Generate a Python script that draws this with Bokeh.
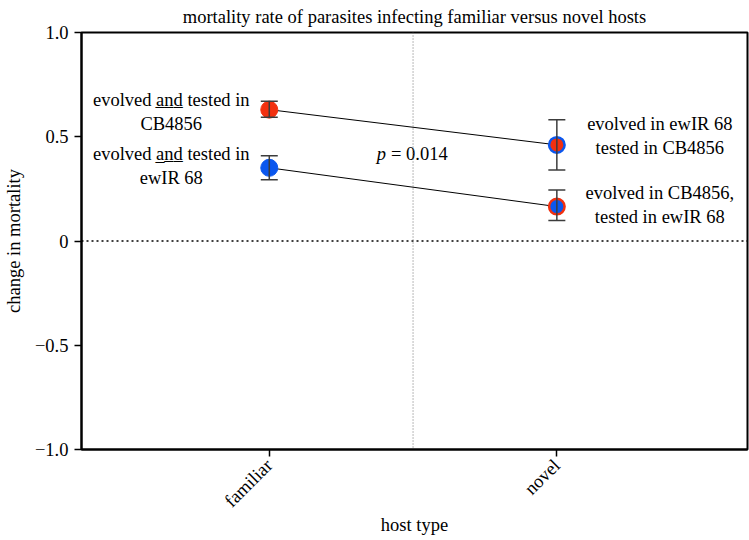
import math
from bokeh.plotting import figure
from bokeh.models import ColumnDataSource, Whisker, Span, FixedTicker, Range1d, TeeHead
from bokeh.embed import file_html
from bokeh.resources import INLINE
from bokeh.core.properties import value

# ---------------- data ----------------
categories = ["familiar", "novel"]
cat_x = [1, 2]

# series tested in CB4856 (familiar: evolved and tested in CB4856; novel: evolved in ewIR 68)
cb_mean = [0.630, 0.461]
cb_lower = [0.594, 0.341]
cb_upper = [0.670, 0.581]
cb_labels = ["evolved a\u0332n\u0332d\u0332 tested in\nCB4856", "evolved in ewIR 68\ntested in CB4856"]

# series tested in ewIR 68 (familiar: evolved and tested in ewIR 68; novel: evolved in CB4856)
ew_mean = [0.351, 0.165]
ew_lower = [0.294, 0.098]
ew_upper = [0.409, 0.245]
ew_labels = ["evolved a\u0332n\u0332d\u0332 tested in\newIR 68", "evolved in CB4856,\ntested in ewIR 68"]

y_ticks = [-1.0, -0.5, 0.0, 0.5, 1.0]
y_tick_labels = ["\u22121.0", "\u22120.5", "0", "0.5", "1.0"]

p_value_text = "= 0.014"
p_value_y = 0.415

RED = "#f2300f"
BLUE = "#0b57ee"
FONT = "Liberation Serif"
FS = "18.5px"

# ---------------- figure ----------------
p = figure(width=749, height=540, output_backend="svg", toolbar_location=None,
           x_range=Range1d(0.347, 2.663), y_range=Range1d(-1, 1),
           title="mortality rate of parasites infecting familiar versus novel hosts",
           min_border_left=80, min_border_right=2, min_border_top=32, min_border_bottom=91,
           x_axis_label="host type", y_axis_label="change in mortality")

p.title.align = "center"
p.title.vertical_align = "top"
p.title.text_font = FONT
p.title.text_font_size = FS
p.title.text_font_style = "normal"
p.title.text_color = "black"
p.title.standoff = 8

p.xgrid.visible = False
p.ygrid.visible = False
p.outline_line_color = "black"
p.outline_line_width = 2
p.outline_line_alpha = 1.0
p.background_fill_color = "white"
p.border_fill_color = "white"

for ax in (p.xaxis[0], p.yaxis[0]):
    ax.axis_line_width = 2
    ax.axis_line_color = "black"
    ax.major_tick_line_width = 1.5
    ax.major_tick_line_color = "black"
    ax.major_tick_out = 7
    ax.major_tick_in = 0
    ax.minor_tick_out = 0
    ax.minor_tick_in = 0
    ax.major_label_text_font = FONT
    ax.major_label_text_font_size = FS
    ax.major_label_text_color = "black"
    ax.axis_label_text_font = FONT
    ax.axis_label_text_font_size = FS
    ax.axis_label_text_font_style = "normal"
    ax.axis_label_text_color = "black"

p.xaxis.ticker = FixedTicker(ticks=cat_x)
p.xaxis.major_label_overrides = {x: c for x, c in zip(cat_x, categories)}
p.xaxis.major_label_orientation = math.pi / 4
p.xaxis.major_label_standoff = 6
p.xaxis.axis_label_standoff = -6

p.yaxis.ticker = FixedTicker(ticks=y_ticks)
p.yaxis.major_label_overrides = {t: l for t, l in zip(y_ticks, y_tick_labels)}
p.yaxis.major_label_standoff = 6
p.yaxis.axis_label_standoff = 8

# reference lines
p.add_layout(Span(location=0, dimension="width", line_color="black",
                  line_width=1.5, line_dash="2 3"))
mid_x = (cat_x[0] + cat_x[1]) / 2
p.add_layout(Span(location=mid_x, dimension="height", line_color="#707070",
                  line_width=1, line_dash="1 2"))

# connecting lines
p.line(cat_x, cb_mean, line_color="black", line_width=1)
p.line(cat_x, ew_mean, line_color="black", line_width=1)

# markers (fill = test host, outline = evolution host)
cb_src = ColumnDataSource(dict(x=cat_x, y=cb_mean, lo=cb_lower, hi=cb_upper,
                               fill=[RED, RED], edge=[RED, BLUE], lw=[1, 2.5], sz=[17, 15.5]))
ew_src = ColumnDataSource(dict(x=cat_x, y=ew_mean, lo=ew_lower, hi=ew_upper,
                               fill=[BLUE, BLUE], edge=[BLUE, RED], lw=[1, 2.5], sz=[17, 15.5]))

for src in (cb_src, ew_src):
    p.scatter("x", "y", source=src, marker="circle", size="sz",
              fill_color="fill", line_color="edge", line_width="lw")
    w = Whisker(base="x", lower="lo", upper="hi", source=src, level="annotation",
                line_color="#3c3c3c", line_width=1.5,
                upper_head=TeeHead(size=17, line_color="#3c3c3c", line_width=1.5),
                lower_head=TeeHead(size=17, line_color="#3c3c3c", line_width=1.5))
    p.add_layout(w)

# labels beside each point
def point_label(x, y, txt, dx, dy):
    p.text([x], [y], text=[txt], x_offset=dx, y_offset=dy,
           text_align="center", text_baseline="middle", text_font=value(FONT),
           text_font_size=FS, text_color="black", text_line_height=1.2)

point_label(cat_x[0], cb_mean[0], cb_labels[0], -98, 2.5)
point_label(cat_x[0], ew_mean[0], ew_labels[0], -98, -1.5)
point_label(cat_x[1], cb_mean[1], cb_labels[1], 103, -9)
point_label(cat_x[1], ew_mean[1], ew_labels[1], 103, -2)

# p-value
p.text([mid_x], [p_value_y], text=["p"], x_offset=-27, text_align="right",
       text_baseline="middle", text_font=value(FONT), text_font_style="italic",
       text_font_size=FS, text_color="black")
p.text([mid_x], [p_value_y], text=[p_value_text], x_offset=-22, text_align="left",
       text_baseline="middle", text_font=value(FONT),
       text_font_size=FS, text_color="black")

open("out.html", "w").write(file_html(p, INLINE))
